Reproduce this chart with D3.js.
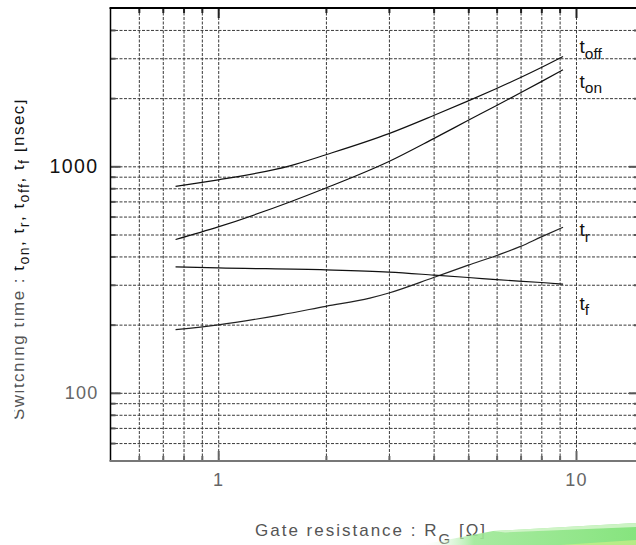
<!DOCTYPE html>
<html><head><meta charset="utf-8">
<script src="https://cdn.jsdelivr.net/npm/d3@7"></script>
<style>
html,body{margin:0;padding:0;background:#fff;}
svg{display:block;font-family:Arial,"Liberation Sans",sans-serif;}
</style>
</head><body>
<svg id="c" width="636" height="545"></svg>
<script>
// ---- data ----
const rgOff = [0.76, 1, 1.586, 2, 3, 4, 5, 6, 7, 8, 9.2];
const tOff  = [816, 871, 1005, 1125, 1394, 1676, 1946, 2207, 2466, 2729, 3052];
const rgOn  = [0.76, 1, 1.586, 2, 3, 4, 5, 6, 7, 8, 9.2];
const tOn   = [475, 540, 696, 802, 1050, 1325, 1596, 1856, 2112, 2366, 2667];
const rgR   = [0.76, 1, 1.5, 2, 2.654, 3, 4, 5, 6, 7, 8, 9.2];
const tR    = [190, 199.5, 221, 241, 262, 276, 323, 366, 404, 443, 488, 538];
const rgF   = [0.76, 1, 2, 3, 4, 5, 6, 8, 9.2];
const tF    = [360, 356, 349, 341, 331, 323, 316, 307, 302];

const xGrid  = [0.6, 0.7, 0.8, 0.9, 1, 2, 3, 4, 5, 6, 7, 8, 9, 10];
const xMajor = [1, 10];
const xMinor = [0.6, 0.7, 0.8, 0.9, 2, 3, 4, 5, 6, 7, 8, 9];
const yGrid  = [60, 70, 80, 90, 100, 200, 300, 400, 500, 600, 700, 800, 900, 1000, 2000, 3000, 4000];
const yMajor = [100, 1000];
const yMinor = [60, 70, 80, 90, 200, 300, 400, 500, 600, 700, 800, 900, 2000, 3000, 4000];
const xTickLabels = [1, 10];
const yTickLabels = [100, 1000];
const seriesSubs = ["off", "on", "r", "f"];

// ---- layout ----
const L = 110.5, R = 639, T = 8, B = 461;
const svg = d3.select("#c");
const x = d3.scaleLog().domain([0.5, 15]).range([L, R]);
const y = d3.scaleLog().domain([50, 5000]).range([B, T]);

// grid lines
const gx = svg.append("g").attr("transform", `translate(0,${B})`)
  .call(d3.axisBottom(x).tickValues(xGrid).tickSize(-(B - T)).tickFormat(""));
const gy = svg.append("g").attr("transform", `translate(${L},0)`)
  .call(d3.axisLeft(y).tickValues(yGrid).tickSize(-(R - L)).tickFormat(""));
[gx, gy].forEach(g => {
  g.select(".domain").remove();
  g.selectAll("line").attr("stroke", "#3a3a3a").attr("stroke-width", 1).attr("stroke-dasharray", "3,1.5");
});

// tick marks (inward)
function ticks(axisFn, vals, size, tr, color) {
  const g = svg.append("g").attr("transform", tr)
    .call(axisFn.tickValues(vals).tickSize(size).tickFormat(""));
  g.select(".domain").remove();
  g.selectAll("line").attr("stroke", color).attr("stroke-width", 2);
}
ticks(d3.axisBottom(x), xMinor, -5, `translate(0,${B})`, "#666");
ticks(d3.axisBottom(x), xMajor, -10, `translate(0,${B})`, "#666");
ticks(d3.axisTop(x), xMinor, -5, `translate(0,${T})`, "#222");
ticks(d3.axisTop(x), xMajor, -10, `translate(0,${T})`, "#222");
ticks(d3.axisLeft(y), yMinor, -5, `translate(${L},0)`, "#555");
ticks(d3.axisLeft(y), yMajor, -10, `translate(${L},0)`, "#555");
ticks(d3.axisRight(y), yMinor, -5, `translate(${R},0)`, "#555");
ticks(d3.axisRight(y), yMajor, -10, `translate(${R},0)`, "#555");

// frame
svg.append("line").attr("x1", L).attr("x2", L).attr("y1", T).attr("y2", B).attr("stroke", "#000").attr("stroke-width", 1.5);
svg.append("line").attr("x1", L - 1).attr("x2", R).attr("y1", T).attr("y2", T).attr("stroke", "#000").attr("stroke-width", 2);
svg.append("line").attr("x1", L - 1).attr("x2", R).attr("y1", B).attr("y2", B).attr("stroke", "#777").attr("stroke-width", 2);
svg.append("line").attr("x1", R).attr("x2", R).attr("y1", T).attr("y2", B).attr("stroke", "#000").attr("stroke-width", 1.5);

// tick labels
const yl = svg.append("g").attr("transform", `translate(${L},0)`)
  .call(d3.axisLeft(y).tickValues(yTickLabels).tickSize(0).tickPadding(12).tickFormat(d3.format("d")));
yl.select(".domain").remove();
yl.selectAll("text")
  .attr("font-family", "Arial, 'Liberation Sans', sans-serif")
  .attr("font-size", d => d === 1000 ? 19.5 : 18)
  .attr("letter-spacing", d => d === 1000 ? 1.4 : 1.2)
  .attr("fill", d => d === 1000 ? "#111" : "#666");
const xl = svg.append("g").attr("transform", `translate(0,${B})`)
  .call(d3.axisBottom(x).tickValues(xTickLabels).tickSize(0).tickPadding(12).tickFormat(d3.format("d")));
xl.select(".domain").remove();
xl.selectAll("text").attr("font-size", 18).attr("letter-spacing", 1.2)
  .attr("font-family", "Arial, 'Liberation Sans', sans-serif").attr("fill", "#666");

// curves
const line = d3.line().x(d => x(d[0])).y(d => y(d[1])).curve(d3.curveMonotoneX);
const series = [
  [rgOff, tOff, "#111"],
  [rgOn, tOn, "#111"],
  [rgR, tR, "#222"],
  [rgF, tF, "#111"]
];
series.forEach(([xs, ys, c]) => {
  svg.append("path").datum(xs.map((v, i) => [v, ys[i]]))
    .attr("d", line).attr("fill", "none").attr("stroke", c).attr("stroke-width", 1.2);
});

// curve labels
const labBase = [53, 87.5, 236, 309.5];
seriesSubs.forEach((s, i) => {
  const t = svg.append("text").attr("x", 579.5).attr("y", labBase[i])
    .attr("font-size", 19).attr("fill", "#111");
  t.append("tspan").text("t");
  t.append("tspan").attr("dy", 5.5).attr("font-size", 15.5).text(s);
});

// x title
const xt = svg.append("text").attr("x", 255).attr("y", 535.5)
  .attr("font-size", 17).attr("letter-spacing", 2).attr("fill", "#555");
xt.append("tspan").text("Gate resistance : R");
xt.append("tspan").attr("dy", 8).attr("font-size", 15).text("G");
xt.append("tspan").attr("dy", -8).text(" [Ω]");

// y title (clipped at left like the reference)
const defs = svg.append("defs");
defs.append("clipPath").attr("id", "yclip").append("rect")
  .attr("x", 14.5).attr("y", 0).attr("width", 100).attr("height", 545);
const ytg = svg.append("g").attr("clip-path", "url(#yclip)");
const ytt = ytg.append("text")
  .attr("transform", "translate(23.5,420) rotate(-90)")
  .attr("font-size", 17).attr("letter-spacing", 1.5).attr("fill", "#111");
ytt.append("tspan").attr("fill", "#555").text("Switching time : ");
const parts = [["t", "on", ", "], ["t", "r", ", "], ["t", "off", ", "], ["t", "f", " [nsec]"]];
parts.forEach(([m, s, tail]) => {
  ytt.append("tspan").text(m);
  ytt.append("tspan").attr("dy", 5.5).attr("font-size", 14).text(s);
  ytt.append("tspan").attr("dy", -5.5).text(tail);
});

// green decorative swoosh at bottom right
const gr = defs.append("linearGradient").attr("id", "gsw").attr("x1", "0").attr("x2", "1").attr("y1", "0").attr("y2", "0");
gr.append("stop").attr("offset", "0").attr("stop-color", "#ffffff").attr("stop-opacity", 0);
gr.append("stop").attr("offset", "0.25").attr("stop-color", "#9ee896").attr("stop-opacity", 0.9);
gr.append("stop").attr("offset", "1").attr("stop-color", "#86e47e").attr("stop-opacity", 1);
svg.append("path").attr("d", "M420,545 L493,531 L636,523 L636,545 Z").attr("fill", "url(#gsw)");
svg.append("path").attr("d", "M493,531 L636,523 L636,527 L505,532.5 Z").attr("fill", "#d8f6d0").attr("opacity", 0.85);
svg.append("path").attr("d", "M560,545 L636,540 L636,545 Z").attr("fill", "#d6f28a").attr("opacity", 0.6);
</script>
</body></html>
